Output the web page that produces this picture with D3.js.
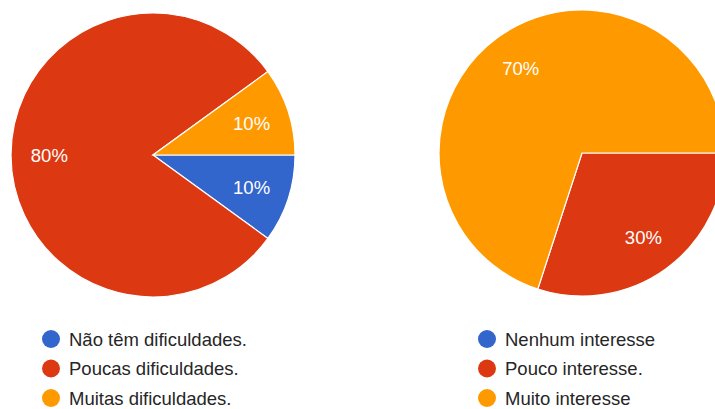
<!DOCTYPE html>
<html>
<head>
<meta charset="utf-8">
<script src="https://cdn.jsdelivr.net/npm/d3@7"></script>
<style>
  html, body { margin: 0; padding: 0; background: #fff; }
  svg { display: block; font-family: "Liberation Sans", Arial, sans-serif; }
</style>
</head>
<body>
<svg id="chart" width="715" height="409"></svg>
<script>
// Survey answers, one pie per question
const difficultyLabels = ["Não têm dificuldades.", "Poucas dificuldades.", "Muitas dificuldades."];
const difficultyValues = [10, 80, 10];

const interestLabels = ["Nenhum interesse", "Pouco interesse.", "Muito interesse"];
const interestValues = [0, 30, 70];

const sliceColors = ["#3366cc", "#dc3912", "#ff9900"];

const svg = d3.select("#chart");
const color = d3.scaleOrdinal().domain([0, 1, 2]).range(sliceColors);

// Slices run clockwise starting at 3 o'clock
const pie = d3.pie()
  .value(d => d.value)
  .sort(null)
  .startAngle(Math.PI / 2)
  .endAngle(Math.PI / 2 + 2 * Math.PI);

function drawPie(labels, values, cx, cy, r, legendX, legendY) {
  const data = labels.map((label, i) => ({ label, value: values[i], i }));
  const total = d3.sum(values);
  const g = svg.append("g").attr("transform", `translate(${cx},${cy})`);
  const arc = d3.arc().innerRadius(0).outerRadius(r);
  const labelArc = d3.arc().innerRadius(r * 0.73).outerRadius(r * 0.73);
  const arcs = pie(data).filter(d => d.data.value > 0);

  g.selectAll("path.slice")
    .data(arcs)
    .join("path")
    .attr("class", "slice")
    .attr("d", arc)
    .attr("fill", d => color(d.data.i))
    .attr("stroke", "#fff")
    .attr("stroke-width", 1.2);

  g.selectAll("text.pct")
    .data(arcs)
    .join("text")
    .attr("class", "pct")
    .attr("transform", d => `translate(${labelArc.centroid(d)})`)
    .attr("text-anchor", "middle")
    .attr("dy", "0.36em")
    .attr("fill", "#fff")
    .attr("font-size", 18.5)
    .text(d => Math.round(d.data.value / total * 100) + "%");

  // Legend below the pie
  const lg = svg.append("g").attr("transform", `translate(${legendX},${legendY})`);
  const rows = lg.selectAll("g.row")
    .data(data)
    .join("g")
    .attr("class", "row")
    .attr("transform", (d, i) => `translate(0,${i * 29.5})`);
  rows.append("circle")
    .attr("r", 9)
    .attr("fill", d => color(d.i));
  rows.append("text")
    .attr("x", 18)
    .attr("dy", "0.36em")
    .attr("fill", "#262626")
    .attr("font-size", 18.5)
    .text(d => d.label);
}

drawPie(difficultyLabels, difficultyValues, 153, 155, 142, 51, 339);
drawPie(interestLabels, interestValues, 582, 153, 143, 487, 339);
</script>
</body>
</html>
